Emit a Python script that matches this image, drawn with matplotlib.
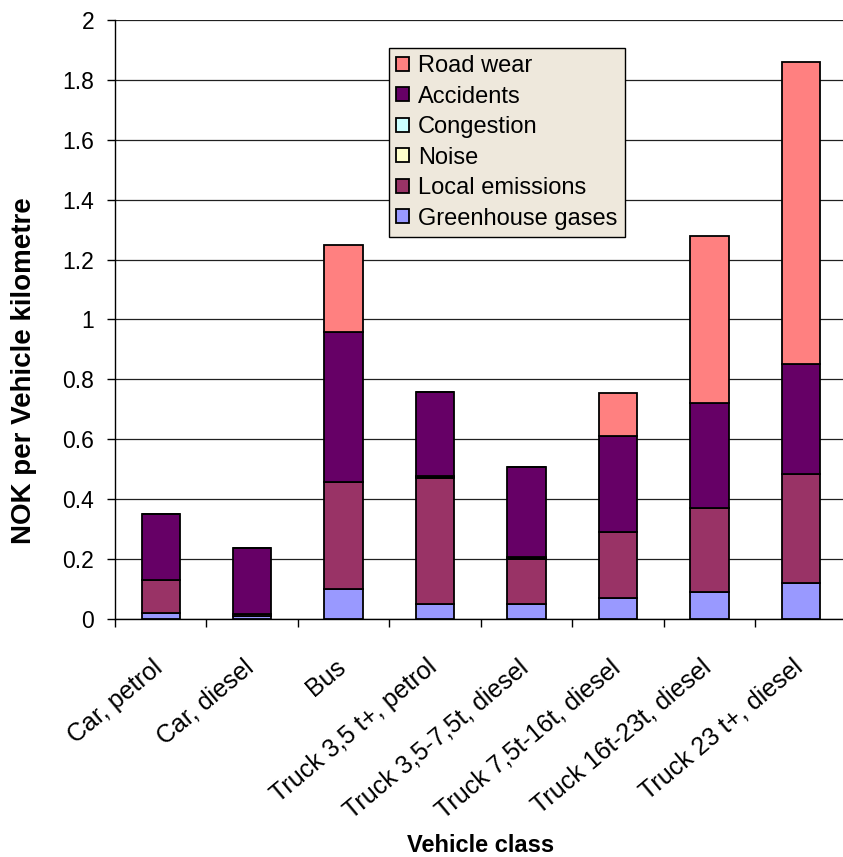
import numpy as np
import matplotlib
matplotlib.use("Agg")
import matplotlib.pyplot as plt
import matplotlib.transforms as mtransforms

plt.rcParams['font.family'] = ['Liberation Sans', 'DejaVu Sans']

classes = ["Car, petrol", "Car, diesel", "Bus", "Truck 3,5 t+, petrol",
           "Truck 3,5-7,5t, diesel", "Truck 7,5t-16t, diesel",
           "Truck 16t-23t, diesel", "Truck 23 t+, diesel"]

# cost components, NOK per vehicle km (bottom to top of the stack)
greenhouse = [0.02, 0.01, 0.10, 0.05, 0.05, 0.07, 0.09, 0.12]
local_emis = [0.11, 0.008, 0.356, 0.42, 0.15, 0.22, 0.28, 0.365]
noise = [0.0, 0.0, 0.0, 0.005, 0.004, 0.0, 0.0, 0.0]
congestion = [0.0, 0.0, 0.0, 0.003, 0.004, 0.0, 0.0, 0.0]
accidents = [0.22, 0.22, 0.503, 0.28, 0.30, 0.32, 0.35, 0.365]
road_wear = [0.0, 0.0, 0.29, 0.0, 0.0, 0.145, 0.56, 1.01]

series = [("Greenhouse gases", greenhouse, "#9999FF"),
          ("Local emissions", local_emis, "#993366"),
          ("Noise", noise, "#FFFFCC"),
          ("Congestion", congestion, "#CCFFFF"),
          ("Accidents", accidents, "#660066"),
          ("Road wear", road_wear, "#FF8080")]

fig = plt.figure(figsize=(8.43, 8.57), dpi=100)
ax = fig.add_axes([0.1364, 0.2777, 0.868, 0.699])

x = np.arange(len(classes))
bottom = np.zeros(len(classes))
handles = {}
for name, vals, col in series:
    vals = np.array(vals)
    b = ax.bar(x, vals, 0.42, bottom=bottom, color=col, edgecolor='black',
               linewidth=1.3, zorder=3)
    handles[name] = b
    bottom += vals

ax.set_xlim(-0.5, len(classes) - 0.5)
ax.set_ylim(0, 2)
ax.set_yticks(np.arange(0, 2.01, 0.2))
ax.set_yticklabels(["0", "0.2", "0.4", "0.6", "0.8", "1", "1.2", "1.4", "1.6", "1.8", "2"])
ax.yaxis.grid(True, color='#202020', linewidth=0.9, zorder=0)
ax.tick_params(axis='y', labelsize=16.5, length=6, direction='out', width=1, pad=9)

# category ticks sit between the bars, labels at the bar centres
ax.set_xticks(np.arange(-0.5, len(classes), 1.0))
ax.set_xticklabels([])
ax.tick_params(axis='x', length=6, direction='out', width=1)
ax.set_xticks(x, minor=True)
ax.set_xticklabels(classes, minor=True, rotation=40, ha='right', va='top',
                   rotation_mode='anchor', fontsize=18)
ax.tick_params(axis='x', which='minor', length=0, pad=26)
shift = mtransforms.ScaledTranslation(-9 / 100, 0, fig.dpi_scale_trans)
for lbl in ax.get_xticklabels(minor=True):
    lbl.set_transform(lbl.get_transform() + shift)

for s in ['top', 'right']:
    ax.spines[s].set_visible(False)
for s in ['left', 'bottom']:
    ax.spines[s].set_linewidth(1)

fig.text(24 / 843, 1 - 371 / 857, "NOK per Vehicle kilometre", rotation=90,
         ha='center', va='center', fontsize=20, fontweight='bold')
fig.text(481 / 843, 1 - 845 / 857, "Vehicle class", ha='center', va='center',
         fontsize=17, fontweight='bold')

order = ["Road wear", "Accidents", "Congestion", "Noise", "Local emissions", "Greenhouse gases"]
leg = ax.legend([handles[n] for n in order], order, loc='upper left',
                bbox_to_anchor=(0.374, 0.953), fontsize=17, frameon=True,
                fancybox=False, facecolor='#EEE8DC', edgecolor='black',
                framealpha=1, handlelength=0.55, handleheight=0.55,
                handletextpad=0.4, labelspacing=0.36, borderpad=0.3,
                borderaxespad=0)
leg.get_frame().set_linewidth(1)

fig.savefig("out.png", dpi=100)
